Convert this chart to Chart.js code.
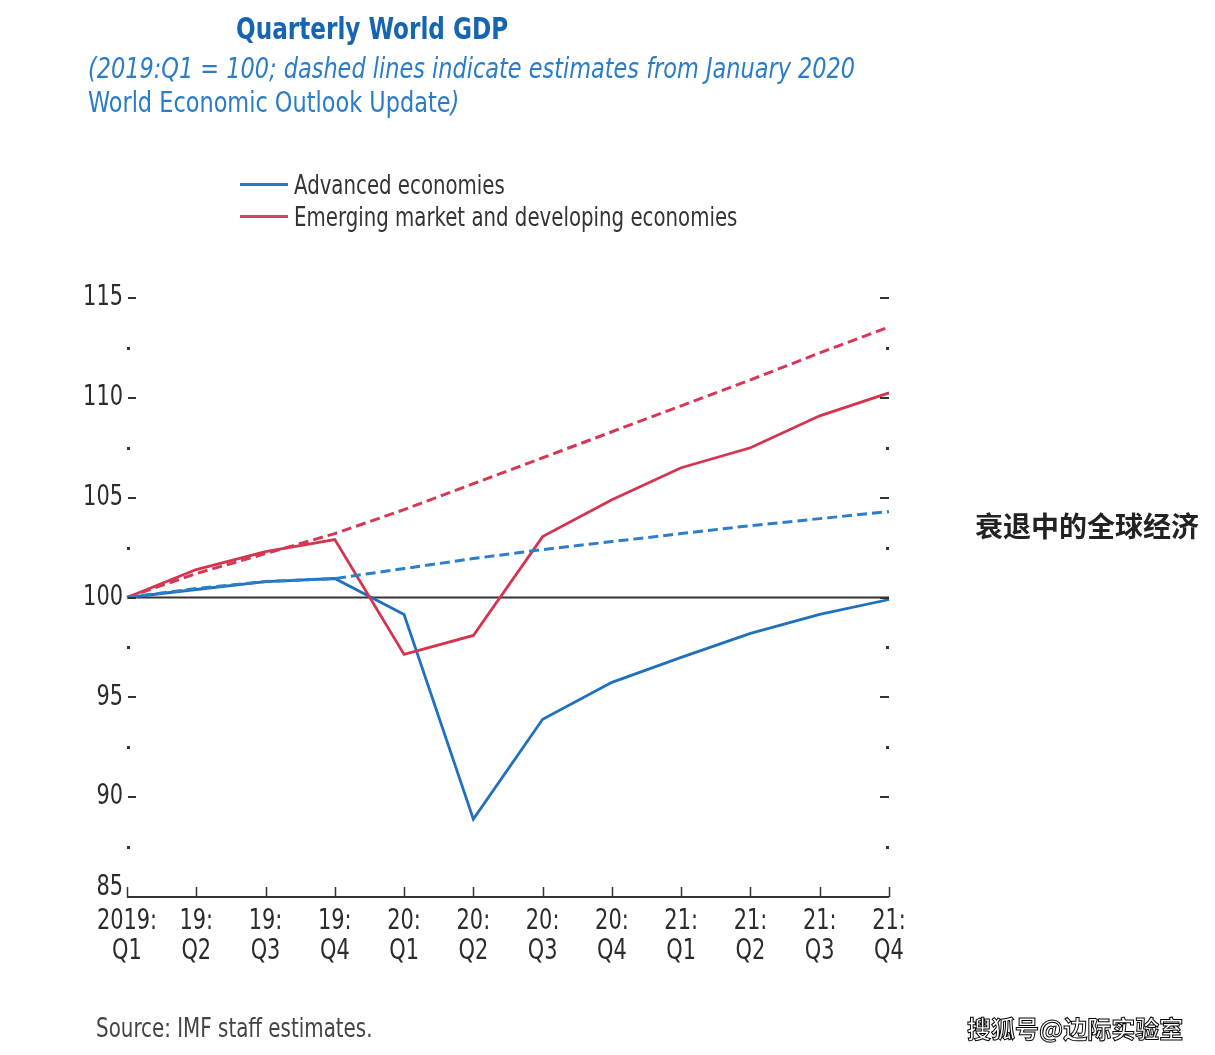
<!DOCTYPE html>
<html>
<head>
<meta charset="utf-8">
<script src="https://cdn.jsdelivr.net/npm/chart.js@4.4.1/dist/chart.umd.min.js"></script>
<style>
  html, body { margin: 0; padding: 0; background: #fff; }
  body { width: 1215px; height: 1055px; position: relative; overflow: hidden;
         font-family: 'Liberation Sans Narrow', 'DejaVu Sans Condensed', sans-serif; }
  #wrap { position: absolute; left: 0; top: 0; width: 1215px; height: 1055px; }
  .abs { position: absolute; white-space: nowrap; transform-origin: 0 0; }
  #title { left: 236px; top: 10px; font-size: 31px; font-weight: bold; color: #1565b0; transform: scaleX(0.83); }
  #sub { left: 88px; top: 52px; font-size: 28px; line-height: 34px; color: #2b7cc6; transform: scaleX(0.89); }
  #sub i { font-style: italic; }
  .leg { left: 240px; font-size: 26px; color: #333; }
  .leg span { display: inline-block; width: 48px; height: 3px; vertical-align: middle; position: relative; top: -2px; }
  .leg b { display: inline-block; font-weight: normal; transform: scaleX(0.845); transform-origin: 0 0; margin-left: 6px; }
  #cn { left: 975px; top: 505px; font-family: 'Noto Sans CJK SC', sans-serif; font-weight: bold; font-size: 28px; color: #222; }
  #src { left: 96px; top: 1013px; font-size: 26px; color: #444; transform: scaleX(0.85); }
  #wm { left: 967px; top: 1010px; font-family: 'Noto Sans CJK SC', sans-serif; font-size: 24px; color: #fff;
        -webkit-text-stroke: 1px #000; font-weight: bold; }
</style>
</head>
<body>
<div id="wrap"><canvas id="gdp-canvas"></canvas></div>
<div class="abs" id="title">Quarterly World GDP</div>
<div class="abs" id="sub"><i>(2019:Q1 = 100; dashed lines indicate estimates from January 2020</i><br>World Economic Outlook Update<i>)</i></div>
<div class="abs leg" style="top:170px"><span style="background:#2a78c4"></span><b>Advanced economies</b></div>
<div class="abs leg" style="top:202px"><span style="background:#d8405c"></span><b>Emerging market and developing economies</b></div>
<div class="abs" id="cn">衰退中的全球经济</div>
<div class="abs" id="src">Source: IMF staff estimates.</div>
<div class="abs" id="wm">搜狐号@边际实验室</div>

<script>
const quarters = [
  ["2019:", "Q1"], ["19:", "Q2"], ["19:", "Q3"], ["19:", "Q4"],
  ["20:", "Q1"], ["20:", "Q2"], ["20:", "Q3"], ["20:", "Q4"],
  ["21:", "Q1"], ["21:", "Q2"], ["21:", "Q3"], ["21:", "Q4"],
];

// solid lines (current estimates)
const advanced = [100, 100.4, 100.8, 100.95, 99.15, 88.9, 93.9, 95.75, 97.0, 98.2, 99.15, 99.9];
const emerging = [100, 101.4, 102.3, 102.9, 97.15, 98.1, 103.05, 104.9, 106.5, 107.5, 109.1, 110.25];

// dashed lines (January 2020 WEO Update)
const advancedJan = [100, 100.45, 100.8, 100.95, 101.45, 101.95, 102.4, 102.8, 103.2, 103.6, 103.95, 104.3];
const emergingJan = [100, 101.2, 102.2, 103.2, 104.4, 105.7, 107.0, 108.3, 109.6, 110.9, 112.25, 113.55];

const yMajor = [85, 90, 95, 100, 105, 110, 115];

const FONT = "'Liberation Sans Narrow', 'DejaVu Sans Condensed', sans-serif";
const SQUEEZE = 0.83; // narrow the condensed font a bit more

function narrowText(ctx, text, x, y, align) {
  ctx.save();
  ctx.translate(x, y);
  ctx.scale(SQUEEZE, 1);
  ctx.textAlign = align;
  ctx.fillText(text, 0, 0);
  ctx.restore();
}

const axisPlugin = {
  id: "imfAxes",
  beforeDatasetsDraw(chart) {
    const { ctx, chartArea, scales } = chart;
    const y100 = scales.y.getPixelForValue(100);
    ctx.save();
    // reference line at 100
    ctx.strokeStyle = "#333";
    ctx.lineWidth = 2;
    ctx.beginPath();
    ctx.moveTo(chartArea.left, y100);
    ctx.lineTo(chartArea.right, y100);
    ctx.stroke();
    ctx.restore();
  },
  afterDraw(chart) {
    const { ctx, chartArea, scales } = chart;
    const x = scales.x;
    const y = scales.y;
    ctx.save();
    ctx.fillStyle = "#333";
    // minor dots / major dashes on both sides
    for (let v = 87.5; v <= 115; v += 2.5) {
      const py = Math.round(y.getPixelForValue(v));
      if (v % 5 === 0) {
        ctx.fillRect(chartArea.left + 1, py - 1, 8, 2);
        ctx.fillRect(chartArea.right - 9, py - 1, 9, 2);
      } else {
        ctx.fillRect(chartArea.left, py - 1, 3, 3);
        ctx.fillRect(chartArea.right - 3, py - 1, 3, 3);
      }
    }
    // y labels
    ctx.font = "28px " + FONT;
    ctx.fillStyle = "#2b2b2b";
    ctx.textBaseline = "middle";
    yMajor.forEach((v) => {
      let py = y.getPixelForValue(v);
      if (v === 85) py -= 9;
      narrowText(ctx, String(v), chartArea.left - 4, py, "right");
    });
    // x labels, two lines each
    quarters.forEach((q, i) => {
      const px = x.getPixelForValue(i);
      narrowText(ctx, q[0], px, chartArea.bottom + 25, "center");
      narrowText(ctx, q[1], px, chartArea.bottom + 55, "center");
    });
    // bottom axis with upward ticks
    ctx.strokeStyle = "#333";
    ctx.lineWidth = 2;
    ctx.beginPath();
    ctx.moveTo(chartArea.left, chartArea.bottom);
    ctx.lineTo(chartArea.right, chartArea.bottom);
    ctx.stroke();
    ctx.lineWidth = 1.5;
    quarters.forEach((q, i) => {
      const px = Math.round(x.getPixelForValue(i)) + 0.5;
      ctx.beginPath();
      ctx.moveTo(px, chartArea.bottom);
      ctx.lineTo(px, chartArea.bottom - 10);
      ctx.stroke();
    });
    ctx.restore();
  },
};

const ctx = document.getElementById("gdp-canvas").getContext("2d");

new Chart(ctx, {
  type: "line",
  data: {
    labels: quarters,
    datasets: [
      {
        label: "Advanced economies (Jan 2020)",
        data: advancedJan,
        borderColor: "rgb(45, 125, 200)",
        borderWidth: 3,
        borderDash: [10, 5],
        pointRadius: 0,
        tension: 0,
      },
      {
        label: "Emerging market and developing economies (Jan 2020)",
        data: emergingJan,
        borderColor: "rgb(214, 55, 85)",
        borderWidth: 3,
        borderDash: [10, 5],
        pointRadius: 0,
        tension: 0,
      },
      {
        label: "Emerging market and developing economies",
        data: emerging,
        borderColor: "rgb(212, 52, 80)",
        borderWidth: 2.8,
        pointRadius: 0,
        tension: 0,
      },
      {
        label: "Advanced economies",
        data: advanced,
        borderColor: "rgb(32, 112, 190)",
        borderWidth: 2.8,
        pointRadius: 0,
        tension: 0,
      },
    ],
  },
  options: {
    responsive: true,
    maintainAspectRatio: false,
    animation: false,
    layout: {
      padding: { top: 298, right: 326, bottom: 78, left: 0 },
    },
    plugins: {
      legend: { display: false },
      tooltip: { enabled: false },
    },
    scales: {
      x: {
        offset: false,
        grid: { display: false },
        border: { display: false },
        afterFit(scale) {
          scale.height = 80;
        },
        ticks: { display: false },
      },
      y: {
        min: 85,
        max: 115,
        grid: { display: false },
        border: { display: false },
        afterFit(scale) {
          scale.width = 127;
        },
        ticks: { display: false, stepSize: 2.5 },
      },
    },
  },
  plugins: [axisPlugin],
});
</script>
</body>
</html>
